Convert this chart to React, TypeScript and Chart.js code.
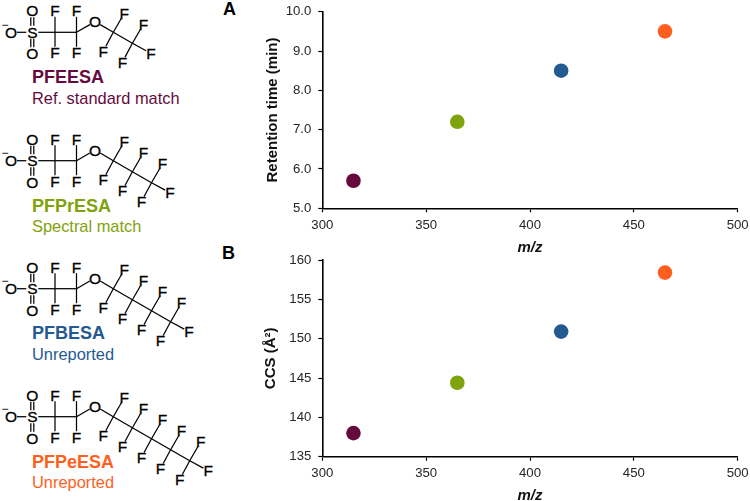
import React, { useEffect, useRef } from "react";
import { Chart, registerables } from "chart.js";

Chart.register(...registerables);

const mz = [315, 365, 415, 465];
const retentionTime = [5.7, 7.2, 8.5, 9.5];
const ccs = [138, 144.4, 150.9, 158.4];
const compounds = ["PFEESA", "PFPrESA", "PFBESA", "PFPeESA"];
const matches = ["Ref. standard match", "Spectral match", "Unreported", "Unreported"];
const colors = ["#660a3e", "#7fa30c", "#245a92", "#ff5f1e"];
const chainLengths = [2, 3, 4, 5];
const FONT = "Arial, 'Liberation Sans', sans-serif";

function Panel(props: {
  values: number[]; min: number; max: number; step: number; yTitle: string; decimals: number;
  top: number; height: number; areaTop: number; areaBottom: number; yPad: number; xPad: number;
}) {
  const ref = useRef<HTMLCanvasElement>(null);
  useEffect(() => {
    const { values, min, max, step, yTitle, decimals, height, areaTop, areaBottom } = props;
    const tickFont = { family: FONT, size: 13.2 };
    const chart = new Chart(ref.current!, {
      type: "scatter",
      data: {
        datasets: [{
          data: mz.map((x, i) => ({ x, y: values[i] })),
          pointRadius: 7.3,
          pointHoverRadius: 7.3,
          pointBorderWidth: 0,
          pointBackgroundColor: colors,
        }],
      },
      options: {
        animation: false,
        responsive: false,
        events: [],
        layout: { padding: { left: 0, right: 12.3, top: areaTop, bottom: 0 } },
        plugins: { legend: { display: false }, tooltip: { enabled: false } },
        scales: {
          x: {
            type: "linear", min: 300, max: 500,
            ticks: { stepSize: 50, color: "#262626", font: tickFont, padding: 5, maxRotation: 0 },
            grid: { drawOnChartArea: false, color: "#000", tickLength: 4, tickWidth: 1.2 },
            border: { color: "#000", width: 1.6 },
            title: {
              display: true, text: "m/z", color: "#111",
              font: { family: FONT, size: 15, weight: "bold", style: "italic" },
              padding: { top: 0, bottom: props.xPad },
            },
            afterFit: (s: any) => { s.height = height - areaBottom; s.paddingRight = 0; s.paddingLeft = 0; },
          },
          y: {
            type: "linear", min, max,
            ticks: {
              stepSize: step, color: "#262626", font: tickFont, padding: 7,
              callback: (v: any) => Number(v).toFixed(decimals),
            },
            grid: { drawOnChartArea: false, color: "#000", tickLength: 4, tickWidth: 1.2 },
            border: { color: "#000", width: 1.6 },
            title: {
              display: true, text: yTitle, color: "#111",
              font: { family: FONT, size: 15, weight: "bold" },
              padding: { top: props.yPad, bottom: 0 },
            },
            afterFit: (s: any) => { s.width = 82.3; s.paddingTop = 0; s.paddingBottom = 0; },
          },
        },
      } as any,
    });
    return () => chart.destroy();
  }, []);
  return (
    <canvas
      ref={ref}
      width={510}
      height={props.height}
      style={{ position: "absolute", left: 240, top: props.top, width: 510, height: props.height }}
    />
  );
}

function Atom({ x, y, t, size = 15.5 }: { x: number; y: number; t: string; size?: number }) {
  return (
    <text
      x={x} y={y + size * 0.36} textAnchor="middle" fontFamily={FONT} fontSize={size}
      fill="#000" stroke="#000" strokeWidth={0.3}
    >{t}</text>
  );
}

function Molecule({ n, baseY, index }: { n: number; baseY: number; index: number }) {
  const bonds: number[][] = [];
  const atoms: { x: number; y: number; t: string }[] = [];
  const cAx = 55, cBx = 76.5, ox = 95, oy = baseY - 10.7, sx = 32.3;
  const stepX = 19.1, stepY = 11;
  const clear = (x1: number, y1: number, x2: number, y2: number, a: number, b: number) => {
    const d = Math.hypot(x2 - x1, y2 - y1);
    const ux = (x2 - x1) / d, uy = (y2 - y1) / d;
    bonds.push([x1 + ux * a, y1 + uy * a, x2 - ux * b, y2 - uy * b]);
  };
  clear(11, baseY, sx, baseY, 6, 6);
  clear(sx, baseY, cAx, baseY, 6, 0);
  clear(cAx, baseY, cBx, baseY, 0, 0);
  clear(cBx, baseY, ox, oy, 0, 6);
  for (const d of [-1.5, 1.5]) {
    clear(sx + d, baseY - 21.5, sx + d, baseY, 6.5, 6.5);
    clear(sx + d, baseY + 21.5, sx + d, baseY, 6.5, 6.5);
  }
  for (const cx of [cAx, cBx]) {
    clear(cx, baseY, cx, baseY - 21.5, 0, 6);
    clear(cx, baseY, cx, baseY + 20.5, 0, 6);
    atoms.push({ x: cx, y: baseY - 21.5, t: "F" }, { x: cx, y: baseY + 20.5, t: "F" });
  }
  atoms.push({ x: 11, y: baseY, t: "O" }, { x: sx, y: baseY, t: "S" });
  atoms.push({ x: sx, y: baseY - 21.5, t: "O" }, { x: sx, y: baseY + 21.5, t: "O" }, { x: ox, y: oy, t: "O" });
  let px = ox, py = oy;
  for (let i = 0; i < n; i++) {
    const cx = 113.3 + i * stepX;
    const cy = baseY + i * stepY;
    clear(px, py, cx, cy, i === 0 ? 6 : 0, 0);
    clear(cx, cy, cx + 11, cy - 19, 0, 5.5);
    clear(cx, cy, cx - 10, cy + 18.7, 0, 5.5);
    atoms.push({ x: cx + 11, y: cy - 19, t: "F" }, { x: cx - 10, y: cy + 18.7, t: "F" });
    if (i === n - 1) {
      clear(cx, cy, cx + 18.5, cy + 10, 0, 5.5);
      atoms.push({ x: cx + 18.5, y: cy + 10, t: "F" });
    }
    px = cx; py = cy;
  }
  const labelOffsets = [51, 51, 50.6, 51];
  const subOffsets = [71.7, 71, 71.3, 71];
  const c = colors[index];
  return (
    <g>
      {bonds.map((b, i) => (
        <line key={i} x1={b[0]} y1={b[1]} x2={b[2]} y2={b[3]} stroke="#000" strokeWidth={1.25} />
      ))}
      {atoms.map((a, i) => <Atom key={i} x={a.x} y={a.y} t={a.t} />)}
      <text x={1.5} y={baseY - 3.5} fontFamily={FONT} fontSize={12} fill="#000">−</text>
      <text x={32} y={baseY + labelOffsets[index]} fontFamily={FONT} fontSize={18} fontWeight="bold" fill={c}>
        {compounds[index]}
      </text>
      <text x={32} y={baseY + subOffsets[index]} fontFamily={FONT} fontSize={16.4} fill={c}>
        {matches[index]}
      </text>
    </g>
  );
}

const baseYs = [32.3, 160.7, 288.7, 416.7];

export default function App() {
  return (
    <div style={{ position: "absolute", left: 0, top: 0, width: 750, height: 501, background: "#fff", overflow: "hidden" }}>
      <svg width={750} height={501} style={{ position: "absolute", left: 0, top: 0 }}>
        {chainLengths.map((n, i) => <Molecule key={i} n={n} baseY={baseYs[i]} index={i} />)}
        <text x={223} y={15} fontFamily={FONT} fontSize={18} fontWeight="bold" fill="#000">A</text>
        <text x={222} y={259} fontFamily={FONT} fontSize={18} fontWeight="bold" fill="#000">B</text>
      </svg>
      <Panel values={retentionTime} min={5} max={10} step={1} yTitle="Retention time (min)" decimals={1}
        top={0} height={252} areaTop={11.7} areaBottom={208.3} yPad={24} xPad={-5} />
      <Panel values={ccs} min={135} max={160} step={5} yTitle="CCS (Å²)" decimals={0}
        top={250} height={251} areaTop={10} areaBottom={206.7} yPad={22} xPad={-4} />
    </div>
  );
}
